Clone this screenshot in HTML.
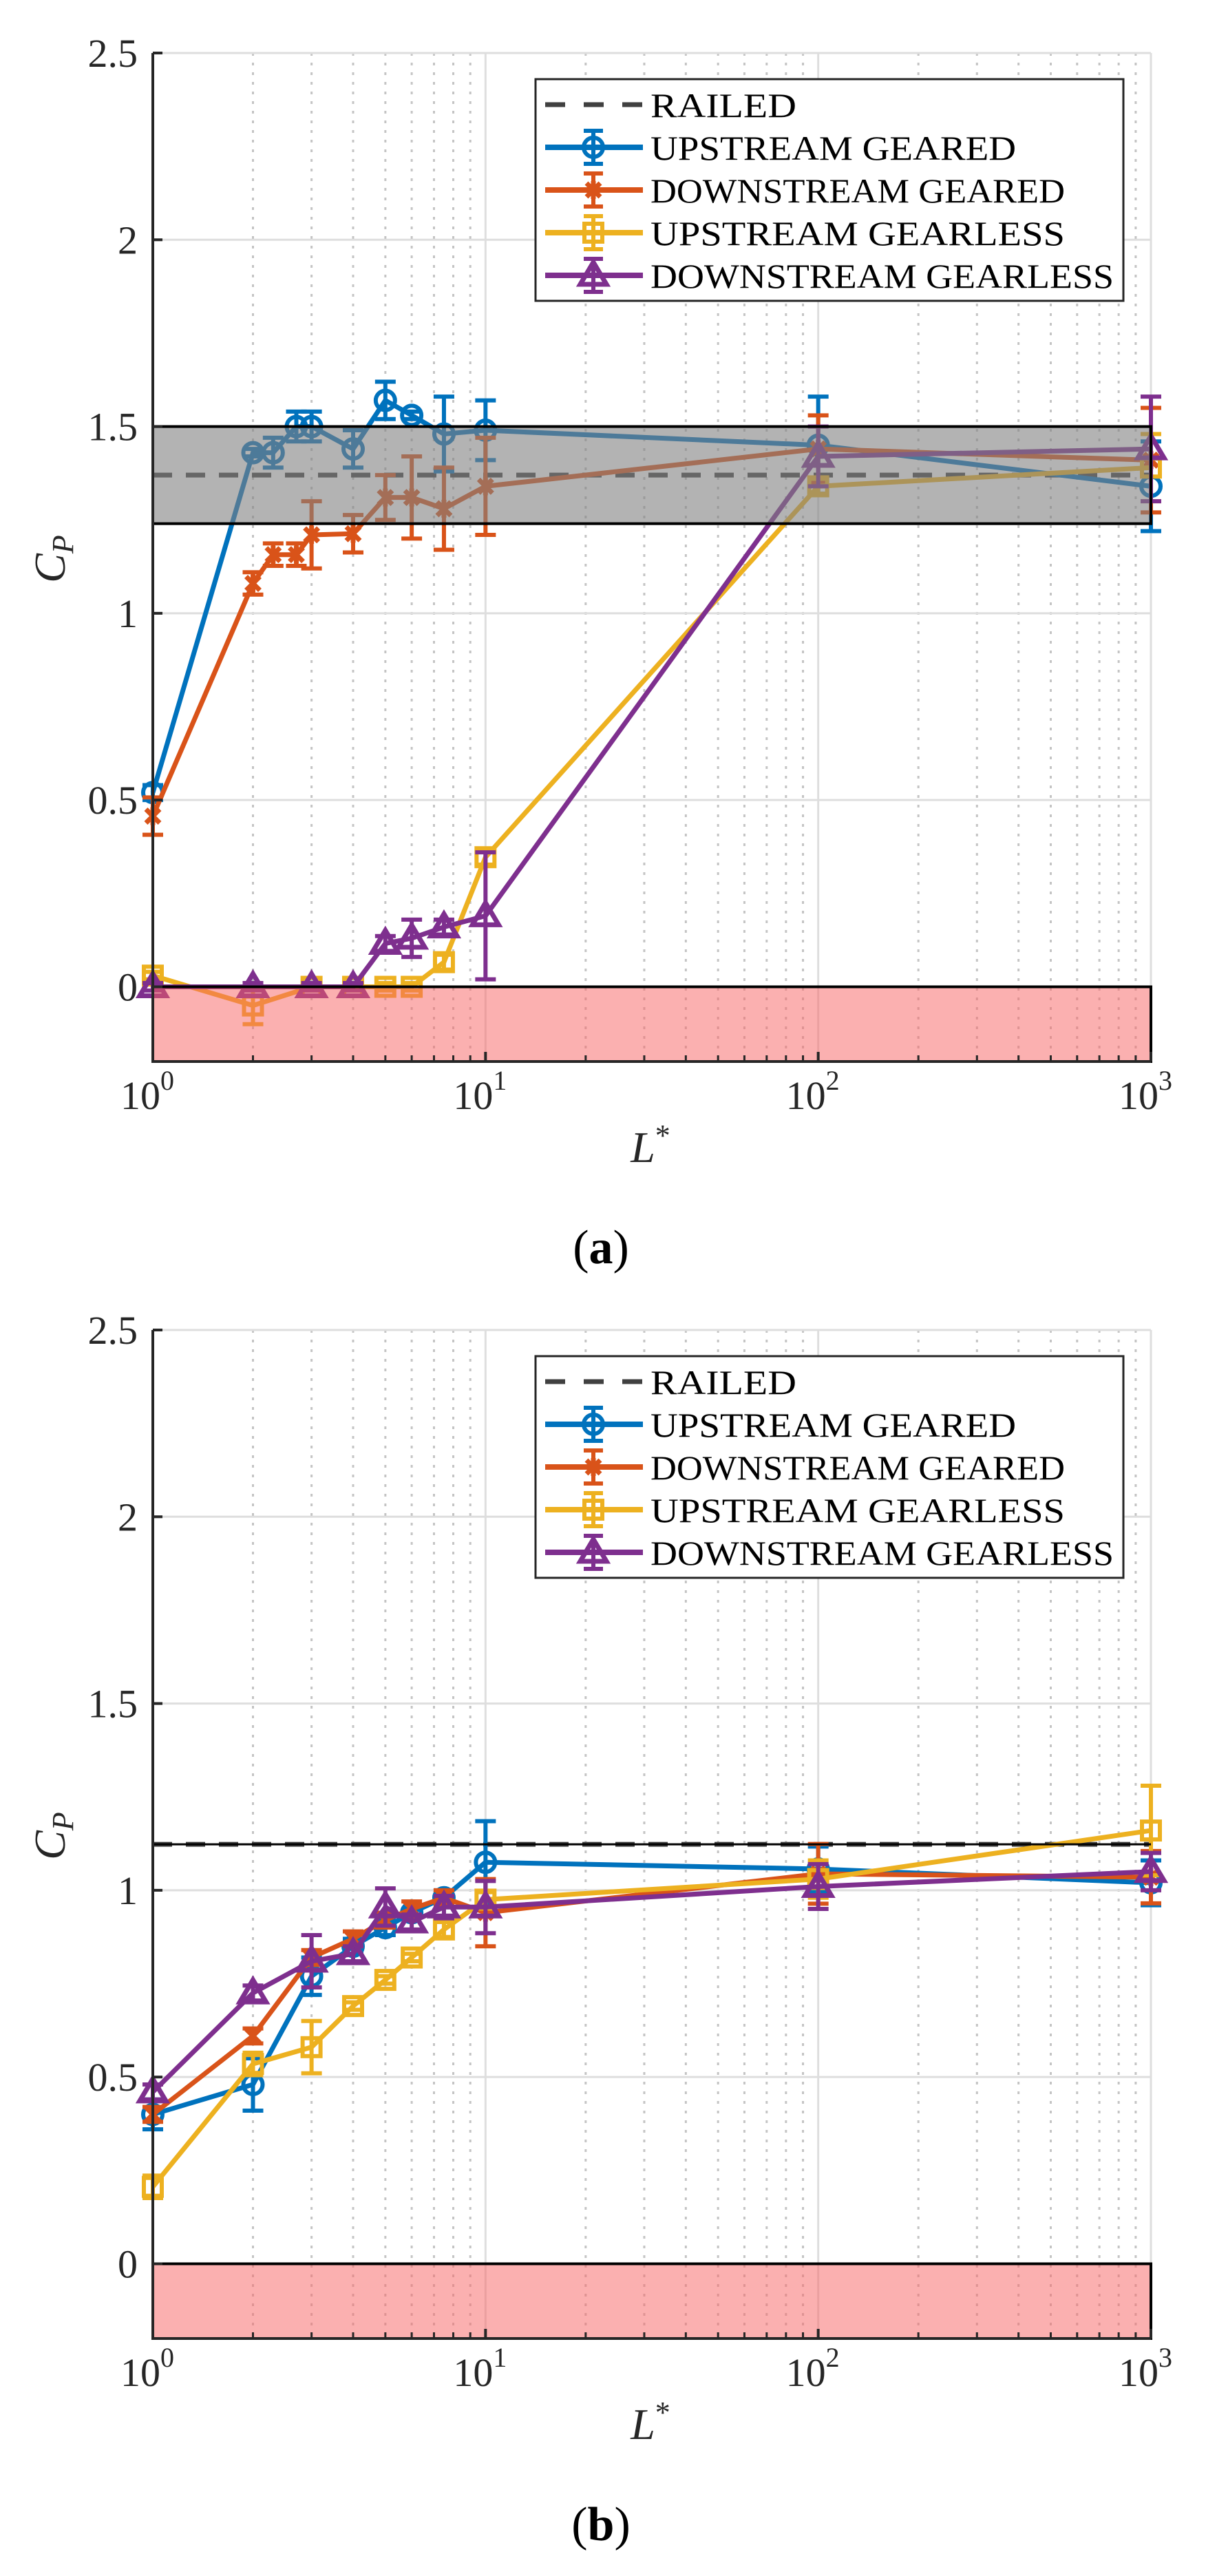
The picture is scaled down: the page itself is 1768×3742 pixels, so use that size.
<!DOCTYPE html>
<html><head><meta charset="utf-8"><style>
html,body{margin:0;padding:0;background:#fff;}
svg{display:block;}
text{font-family:"Liberation Serif",serif;}
</style></head><body>
<svg id="fig" width="1768" height="3742" viewBox="0 0 1768 3742" xmlns="http://www.w3.org/2000/svg"></svg>
<script>
// ---- data ----
const xA_geared = [1,2,2.3,2.7,3,4,5,6,7.5,10,100,1000];
const xA_gearless = [1,2,3,4,5,6,7.5,10,100,1000];
const xB = [1,2,3,4,5,6,7.5,10,100,1000];
const a_upGeared = [0.52,1.43,1.43,1.50,1.50,1.44,1.57,1.53,1.48,1.49,1.45,1.34];
const a_upGearedErr = [0.02,0.01,0.04,0.04,0.04,0.05,0.05,0.01,0.10,0.08,0.13,0.12];
const a_dnGeared = [0.457,1.08,1.157,1.157,1.21,1.213,1.31,1.31,1.28,1.34,1.44,1.41];
const a_dnGearedErr = [0.05,0.03,0.03,0.03,0.09,0.05,0.06,0.11,0.11,0.13,0.09,0.14];
const a_upGearless = [0.03,-0.05,0,0,0,0,0.066,0.347,1.34,1.39];
const a_upGearlessErr = [0.01,0.05,0.01,0.01,0.01,0.01,0.02,0.02,0.02,0.09];
const a_dnGearless = [0,0,0,0,0.116,0.13,0.16,0.19,1.42,1.44];
const a_dnGearlessErr = [0.01,0.01,0.01,0.01,0.02,0.05,0.02,0.17,0.08,0.14];
const a_railed = 1.37, a_bandLo = 1.24, a_bandHi = 1.50;
const b_upGeared = [0.40,0.48,0.77,0.85,0.90,0.94,0.98,1.075,1.057,1.02];
const b_upGearedErr = [0.04,0.07,0.05,0.02,0.02,0.01,0.02,0.11,0.06,0.06];
const b_dnGeared = [0.40,0.61,0.82,0.87,0.92,0.95,0.98,0.94,1.044,1.035];
const b_dnGearedErr = [0.02,0.02,0.02,0.02,0.02,0.02,0.02,0.09,0.08,0.07];
const b_upGearless = [0.206,0.535,0.58,0.69,0.76,0.82,0.895,0.975,1.03,1.16];
const b_upGearlessErr = [0.03,0.03,0.07,0.01,0.01,0.01,0.02,0.02,0.05,0.12];
const b_dnGearless = [0.46,0.725,0.81,0.83,0.955,0.915,0.955,0.955,1.01,1.05];
const b_dnGearlessErr = [0.02,0.02,0.07,0.02,0.05,0.02,0.03,0.07,0.06,0.05];
const b_railed = 1.123;
const yTicks = [0,0.5,1,1.5,2,2.5];
const yTickLabels = ["0","0.5","1","1.5","2","2.5"];
const xDecades = [0,1,2,3];
const legendLabels = ["RAILED","UPSTREAM GEARED","DOWNSTREAM GEARED","UPSTREAM GEARLESS","DOWNSTREAM GEARLESS"];

const NS="http://www.w3.org/2000/svg";
const svg=document.getElementById('fig');
const COL={blue:"#0072BD",orange:"#D95319",yellow:"#EDB120",purple:"#7E2F8E"};
const L=222,R=1672,YMIN=-0.2,YMAX=2.5,PH=1465;
function mk(tag,attrs,parent){const e=document.createElementNS(NS,tag);for(const k in attrs)e.setAttribute(k,attrs[k]);(parent||svg).appendChild(e);return e;}

function drawPanel(top, panelId, series, railed, band, label){
  const g=mk('g',{});
  
  
  const xs=v=>L+(Math.log10(v))*(R-L)/3;
  const ys=v=>top+(YMAX-v)*PH/(YMAX-YMIN);
  const bottom=ys(YMIN);
  for(const d of [0,1,2]) for(let m=2;m<=9;m++){
    const x=xs(m*Math.pow(10,d));
    const ln=mk('line',{x1:x,x2:x,y1:top,y2:bottom,stroke:"#c4c4c4","stroke-width":3,"stroke-dasharray":"4 10"},g);
    
    
  }
  for(const d of xDecades){const x=xs(Math.pow(10,d));
    const ln=mk('line',{x1:x,x2:x,y1:top,y2:bottom,stroke:"#dedede","stroke-width":3},g);
    
    
  }
  yTicks.forEach(v=>{const y=ys(v);
    const ln=mk('line',{x1:L,x2:R,y1:y,y2:y,stroke:"#dedede","stroke-width":3},g);
    
    
  });
  const rl=mk('line',{x1:L,x2:R,y1:ys(railed),y2:ys(railed),stroke:"#404040","stroke-width":7,"stroke-dasharray":"28 20"},g);
  
  
  series.forEach(s=>{
    const sg=mk('g',{},g);
    
    
    const pts=s.x.map((xv,i)=>xs(xv)+","+ys(s.y[i])).join(" ");
    mk('polyline',{points:pts,fill:"none",stroke:s.c,"stroke-width":7,"stroke-linejoin":"round"},sg);
    s.x.forEach((xv,i)=>{
      const x=xs(xv),y=ys(s.y[i]),e=s.e[i];
      const y1=ys(s.y[i]+e),y2=ys(s.y[i]-e);
      const eb=mk('path',{d:`M${x},${y1}V${y2}M${x-15},${y1}H${x+15}M${x-15},${y2}H${x+15}`,stroke:s.c,"stroke-width":6,fill:"none"},sg);
      
      
      marker(sg,s.m,x,y,s.c);
    });
  });
  if(band){
    const b=mk('rect',{x:L,y:ys(band[1]),width:R-L,height:ys(band[0])-ys(band[1]),fill:"#808080","fill-opacity":0.6,stroke:"#000","stroke-width":4},g);
    
    
  } else {
    const b=mk('line',{x1:L,x2:R,y1:ys(railed),y2:ys(railed),stroke:"#000","stroke-width":3},g);
    
    
  }
  const red=mk('rect',{x:L,y:ys(0),width:R-L,height:bottom-ys(0),fill:"#f76262","fill-opacity":0.5,stroke:"#000","stroke-width":4},g);
  
  
  const ax=mk('path',{d:`M${L},${top}V${bottom}H${R}`,stroke:"#262626","stroke-width":4,fill:"none"},g);
  
  
  yTicks.forEach((v,i)=>{const y=ys(v);
    mk('line',{x1:L,x2:L+14,y1:y,y2:y,stroke:"#262626","stroke-width":4},g);
    const t=mk('text',{x:200,y:y+20,"text-anchor":"end","font-size":58,fill:"#262626"},g);
    t.textContent=yTickLabels[i];
    
    
  });
  for(const d of [0,1,2]) for(let m=2;m<=9;m++){const x=xs(m*Math.pow(10,d));
    mk('line',{x1:x,x2:x,y1:bottom,y2:bottom-9,stroke:"#262626","stroke-width":3},g);}
  xDecades.forEach(d=>{const x=xs(Math.pow(10,d));
    mk('line',{x1:x,x2:x,y1:bottom,y2:bottom-14,stroke:"#262626","stroke-width":4},g);
    const t=mk('text',{x:x-8,y:bottom+69,"text-anchor":"middle","font-size":58,fill:"#262626"},g);
    t.textContent="10";
    const ts=mk('tspan',{dy:-28,"font-size":40},t);
    ts.textContent=String(d);
    
    
  });
  const xl=mk('text',{x:945,y:top+1611,"text-anchor":"middle","font-size":64,"font-style":"italic",fill:"#262626"},g);
  xl.textContent="L";
  const xs2=mk('tspan',{dy:-24,"font-size":44,"font-style":"normal"},xl);xs2.textContent="*";
  
  
  const yl=mk('text',{x:0,y:0,transform:`translate(94,${top+735}) rotate(-90)`,"text-anchor":"middle","font-size":64,"font-style":"italic",fill:"#262626"},g);
  yl.textContent="C";
  const ysb=mk('tspan',{dy:12,"font-size":44},yl);ysb.textContent="P";
  
  
  const lg=mk('g',{},g);
  
  
  mk('rect',{x:778,y:top+38,width:854,height:322,fill:"#fff",stroke:"#262626","stroke-width":3},lg);
  const lc=["#404040",COL.blue,COL.orange,COL.yellow,COL.purple];
  const lm=[null,"o","*","s","^"];
  legendLabels.forEach((lab,i)=>{
    const cy=top+75+i*62;
    const row=mk('g',{},lg);
    
    
    if(i===0){mk('line',{x1:792,x2:934,y1:cy,y2:cy,stroke:lc[0],"stroke-width":7,"stroke-dasharray":"29 27"},row);}
    else{
      mk('line',{x1:792,x2:934,y1:cy,y2:cy,stroke:lc[i],"stroke-width":8},row);
      mk('path',{d:`M862,${cy-24}V${cy+24}M848,${cy-24}H876M848,${cy+24}H876`,stroke:lc[i],"stroke-width":6,fill:"none"},row);
      marker(row,lm[i],862,cy,lc[i]);
    }
    const t=mk('text',{x:945,y:cy+18,"font-size":50,fill:"#000",textLength:Math.round(lab.length*35.4),lengthAdjust:"spacingAndGlyphs"},row);
    t.textContent=lab;
  });
  const pl=mk('text',{x:873,y:top+1758,"text-anchor":"middle","font-size":70,fill:"#000"},g);
  pl.textContent="(";
  const pb=mk('tspan',{"font-weight":"bold"},pl);pb.textContent=label;
  const pe=mk('tspan',{},pl);pe.textContent=")";
  
  
}
function marker(p,m,x,y,c){
  if(m==="o") mk('circle',{cx:x,cy:y,r:14,fill:"none",stroke:c,"stroke-width":6},p);
  else if(m==="s") mk('rect',{x:x-13,y:y-13,width:26,height:26,fill:"none",stroke:c,"stroke-width":6},p);
  else if(m==="^") mk('path',{d:`M${x},${y-19}L${x+19},${y+13}L${x-19},${y+13}Z`,fill:"none",stroke:c,"stroke-width":7},p);
  else if(m==="*") mk('path',{d:`M${x-10},${y-10}L${x+10},${y+10}M${x+10},${y-10}L${x-10},${y+10}M${x},${y-13}V${y+13}`,fill:"none",stroke:c,"stroke-width":7},p);
}
drawPanel(77,'panel-a',[
  {name:'series-upstream-geared',x:xA_geared,y:a_upGeared,e:a_upGearedErr,c:COL.blue,m:'o'},
  {name:'series-downstream-geared',x:xA_geared,y:a_dnGeared,e:a_dnGearedErr,c:COL.orange,m:'*'},
  {name:'series-upstream-gearless',x:xA_gearless,y:a_upGearless,e:a_upGearlessErr,c:COL.yellow,m:'s'},
  {name:'series-downstream-gearless',x:xA_gearless,y:a_dnGearless,e:a_dnGearlessErr,c:COL.purple,m:'^'}
],a_railed,[a_bandLo,a_bandHi],'a');
drawPanel(1932,'panel-b',[
  {name:'series-upstream-geared',x:xB,y:b_upGeared,e:b_upGearedErr,c:COL.blue,m:'o'},
  {name:'series-downstream-geared',x:xB,y:b_dnGeared,e:b_dnGearedErr,c:COL.orange,m:'*'},
  {name:'series-upstream-gearless',x:xB,y:b_upGearless,e:b_upGearlessErr,c:COL.yellow,m:'s'},
  {name:'series-downstream-gearless',x:xB,y:b_dnGearless,e:b_dnGearlessErr,c:COL.purple,m:'^'}
],b_railed,null,'b');
</script>
</body></html>
